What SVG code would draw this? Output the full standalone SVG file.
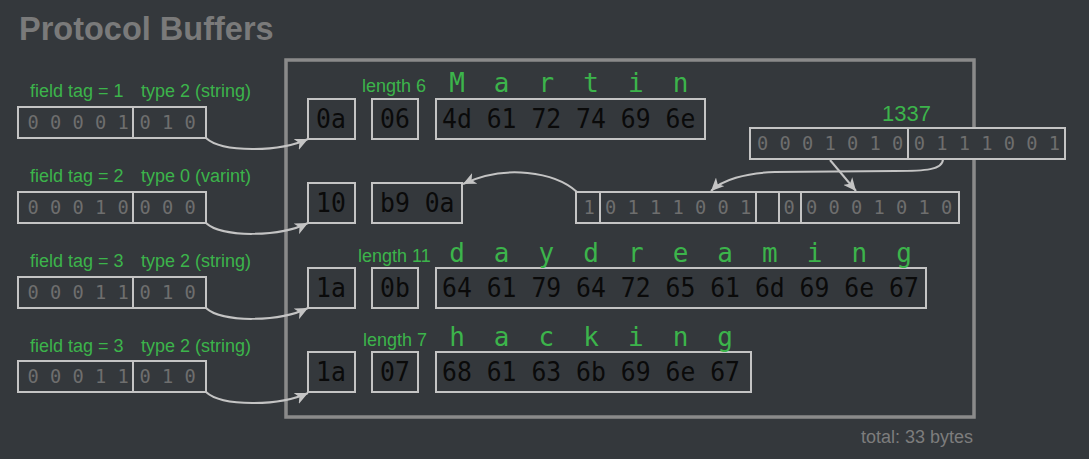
<svg xmlns="http://www.w3.org/2000/svg" width="1089" height="459" viewBox="0 0 1089 459">
<defs>
<style>
.bg{fill:#34383c}
.box{fill:#34383c;stroke:#c4c4c4;stroke-width:2}
.frame{fill:none;stroke:#8a8a8a;stroke-width:3.5}
.lbl{font-family:"Liberation Sans",Arial,sans-serif;font-size:18px;fill:#3cb44b}
.bits{font-family:"DejaVu Sans Mono",monospace;font-size:18.7px;fill:#6e6e6e}
.hex{font-family:"DejaVu Sans Mono",monospace;font-size:27px;fill:#0a0a0a}
.chr{font-family:"DejaVu Sans Mono",monospace;font-size:26px;fill:#3cb44b;text-anchor:middle}
.title{font-family:"Liberation Sans",Arial,sans-serif;font-size:32.5px;font-weight:bold;fill:#7a7a7a}
.note{font-family:"Liberation Sans",Arial,sans-serif;font-size:18px;fill:#7d7d7d}
.conn{fill:none;stroke:#c4c4c4;stroke-width:2}
</style>
<marker id="arr" markerUnits="userSpaceOnUse" markerWidth="14" markerHeight="12" refX="13" refY="6" orient="auto">
<path d="M0,0 L13,6 L0,12 L3.5,6 z" fill="#c4c4c4"/>
</marker>
</defs>
<rect class="bg" x="0" y="0" width="1089" height="459"/>
<text class="title" x="19" y="40">Protocol Buffers</text>
<rect class="frame" x="286" y="60" width="688" height="357"/>

<g id="tag1">
<text class="lbl" x="30" y="97">field tag = 1</text>
<text class="lbl" x="141" y="97">type 2 (string)</text>
<rect class="box" x="18" y="107" width="188" height="31"/>
<line class="conn" x1="133" y1="107" x2="133" y2="138"/>
<text class="bits" x="27.4" y="129">0 0 0 0 1</text>
<text class="bits" x="139.4" y="129">0 1 0</text>
</g>
<g id="tag2">
<text class="lbl" x="30" y="182">field tag = 2</text>
<text class="lbl" x="141" y="182">type 0 (varint)</text>
<rect class="box" x="18" y="192" width="188" height="31"/>
<line class="conn" x1="133" y1="192" x2="133" y2="223"/>
<text class="bits" x="27.4" y="214">0 0 0 1 0</text>
<text class="bits" x="139.4" y="214">0 0 0</text>
</g>
<g id="tag3">
<text class="lbl" x="30" y="267">field tag = 3</text>
<text class="lbl" x="141" y="267">type 2 (string)</text>
<rect class="box" x="18" y="277" width="188" height="31"/>
<line class="conn" x1="133" y1="277" x2="133" y2="308"/>
<text class="bits" x="27.4" y="299">0 0 0 1 1</text>
<text class="bits" x="139.4" y="299">0 1 0</text>
</g>
<g id="tag4">
<text class="lbl" x="30" y="352">field tag = 3</text>
<text class="lbl" x="141" y="352">type 2 (string)</text>
<rect class="box" x="18" y="361" width="188" height="31"/>
<line class="conn" x1="133" y1="361" x2="133" y2="392"/>
<text class="bits" x="27.4" y="383">0 0 0 1 1</text>
<text class="bits" x="139.4" y="383">0 1 0</text>
</g>

<g id="row1">
<rect class="box" x="308" y="99" width="47" height="40"/>
<text class="hex" x="316" y="128" textLength="29.8" lengthAdjust="spacingAndGlyphs">0a</text>
<text class="lbl" x="362" y="92">length 6</text>
<rect class="box" x="372" y="99" width="46" height="40"/>
<text class="hex" x="380" y="128" textLength="29.8" lengthAdjust="spacingAndGlyphs">06</text>
<rect class="box" x="436" y="99" width="269" height="40"/>
<text class="hex" x="442" y="128" textLength="253.3" lengthAdjust="spacingAndGlyphs">4d 61 72 74 69 6e</text>
<text class="chr" y="92"><tspan x="457">M</tspan><tspan x="501.7">a</tspan><tspan x="546.4">r</tspan><tspan x="591.1">t</tspan><tspan x="635.8">i</tspan><tspan x="680.5">n</tspan></text>
</g>
<g id="row2">
<rect class="box" x="308" y="183" width="47" height="40"/>
<text class="hex" x="316" y="212" textLength="29.8" lengthAdjust="spacingAndGlyphs">10</text>
<rect class="box" x="372" y="183" width="90" height="40"/>
<text class="hex" x="380" y="212" textLength="74.5" lengthAdjust="spacingAndGlyphs">b9 0a</text>
</g>
<g id="row3">
<rect class="box" x="308" y="268" width="47" height="40"/>
<text class="hex" x="316" y="297" textLength="29.8" lengthAdjust="spacingAndGlyphs">1a</text>
<text class="lbl" x="358" y="262">length 11</text>
<rect class="box" x="372" y="268" width="46" height="40"/>
<text class="hex" x="380" y="297" textLength="29.8" lengthAdjust="spacingAndGlyphs">0b</text>
<rect class="box" x="436" y="268" width="490" height="40"/>
<text class="hex" x="442" y="297" textLength="476.8" lengthAdjust="spacingAndGlyphs">64 61 79 64 72 65 61 6d 69 6e 67</text>
<text class="chr" y="262"><tspan x="457">d</tspan><tspan x="501.7">a</tspan><tspan x="546.4">y</tspan><tspan x="591.1">d</tspan><tspan x="635.8">r</tspan><tspan x="680.5">e</tspan><tspan x="725.2">a</tspan><tspan x="769.9">m</tspan><tspan x="814.6">i</tspan><tspan x="859.3">n</tspan><tspan x="904">g</tspan></text>
</g>
<g id="row4">
<rect class="box" x="308" y="352" width="47" height="40"/>
<text class="hex" x="316" y="381" textLength="29.8" lengthAdjust="spacingAndGlyphs">1a</text>
<text class="lbl" x="363" y="346">length 7</text>
<rect class="box" x="372" y="352" width="46" height="40"/>
<text class="hex" x="380" y="381" textLength="29.8" lengthAdjust="spacingAndGlyphs">07</text>
<rect class="box" x="436" y="352" width="315" height="40"/>
<text class="hex" x="442" y="381" textLength="298" lengthAdjust="spacingAndGlyphs">68 61 63 6b 69 6e 67</text>
<text class="chr" y="346"><tspan x="457">h</tspan><tspan x="501.7">a</tspan><tspan x="546.4">c</tspan><tspan x="591.1">k</tspan><tspan x="635.8">i</tspan><tspan x="680.5">n</tspan><tspan x="725.2">g</tspan></text>
</g>

<g id="value1337">
<text class="lbl" x="882" y="121" style="font-size:22px">1337</text>
<rect class="box" x="750" y="128" width="315" height="31"/>
<line class="conn" x1="908" y1="128" x2="908" y2="159"/>
<text class="bits" x="757.1" y="150">0 0 0 1 0 1 0</text>
<text class="bits" x="913.7" y="150">0 1 1 1 0 0 1</text>
</g>
<g id="varint">
<rect class="box" x="576" y="192" width="383" height="31"/>
<line class="conn" x1="600" y1="192" x2="600" y2="223"/>
<line class="conn" x1="756" y1="192" x2="756" y2="223"/>
<line class="conn" x1="779" y1="192" x2="779" y2="223"/>
<line class="conn" x1="801" y1="192" x2="801" y2="223"/>
<text class="bits" x="583.4" y="214">1</text>
<text class="bits" x="605.1" y="214">0 1 1 1 0 0 1</text>
<text class="bits" x="783.4" y="214">0</text>
<text class="bits" x="806.1" y="214">0 0 0 1 0 1 0</text>
</g>

<g id="connectors">
<path class="conn" marker-end="url(#arr)" d="M206,138 C222,153 280,152 308,139"/>
<path class="conn" marker-end="url(#arr)" d="M206,223 C222,238 280,237 308,223"/>
<path class="conn" marker-end="url(#arr)" d="M206,308 C222,323 280,322 308,308"/>
<path class="conn" marker-end="url(#arr)" d="M206,392 C222,407 280,406 308,393"/>
<path class="conn" marker-end="url(#arr)" d="M943,159 C943,170 925,171 895,171 L775,172 C745,173 722,180 711,191"/>
<path class="conn" marker-end="url(#arr)" d="M830,160 L856,191"/>
<path class="conn" marker-end="url(#arr)" d="M577,192 C555,172 505,164 463,184"/>
</g>

<text class="note" x="861" y="443">total: 33 bytes</text>
</svg>
